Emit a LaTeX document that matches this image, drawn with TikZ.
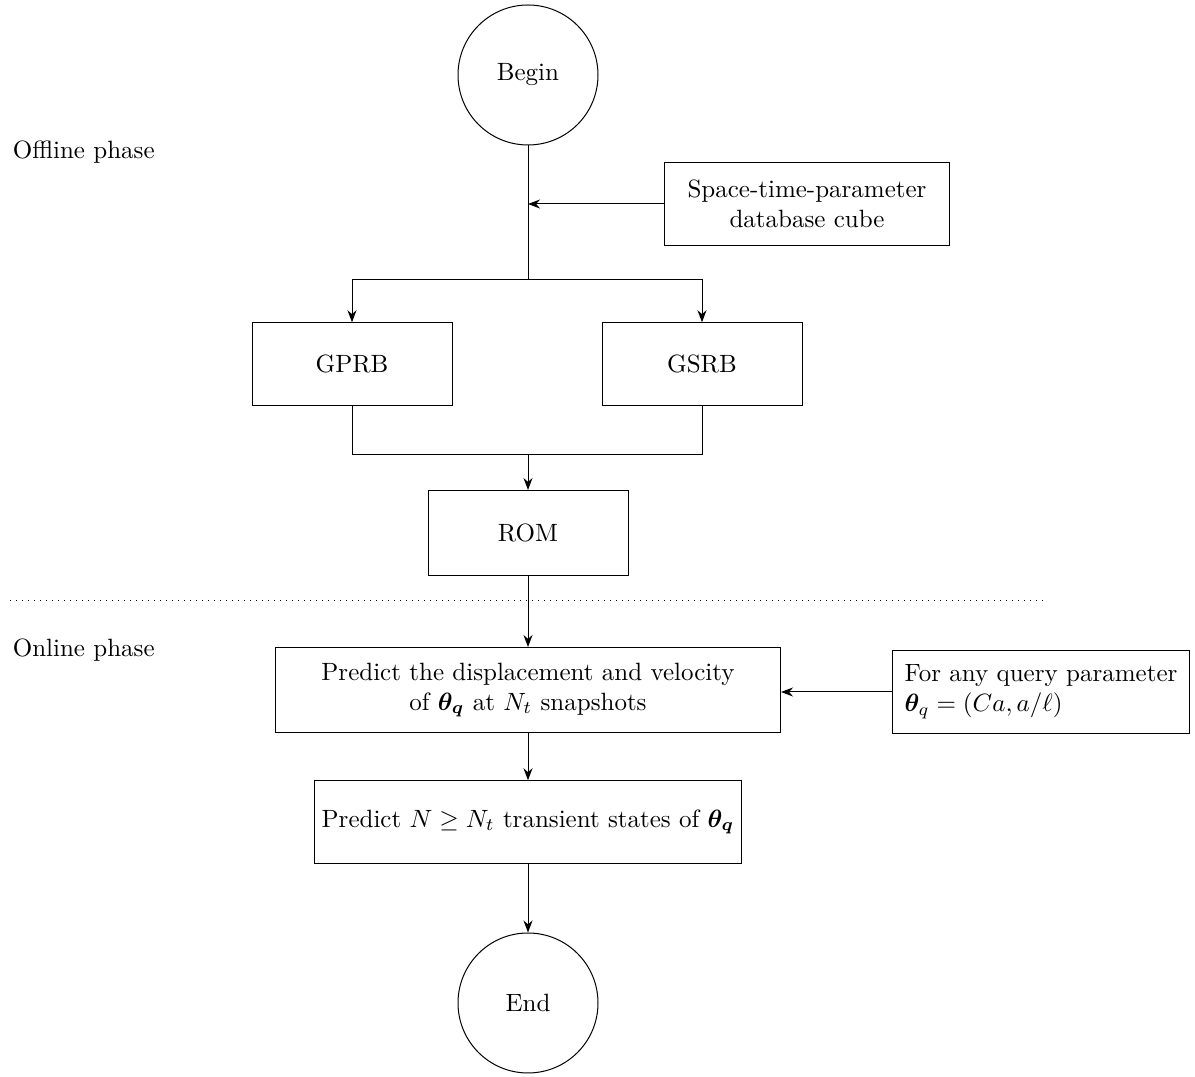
\documentclass[tikz,border=0pt]{standalone}
\usepackage{amsmath,amssymb,bm}
\usetikzlibrary{arrows.meta,positioning}

\begin{document}
\begin{tikzpicture}[
      x=0.4pt,y=-0.4pt,>={Stealth},
      block/.style={draw, rectangle, align=center, inner sep=2pt,
          minimum width=80pt, minimum height=33pt},
      term/.style={draw, circle, minimum size=56pt},
      phase/.style={anchor=west}
      ]
      \useasboundingbox (0,0) rectangle (1195,1077);

      % offline part
      \node[term]                  (begin)  at (528,75)   {Begin};
      \node[phase]                 (offl)   at (4,152)    {Offline phase};
      \node[block, minimum width=114pt] (cube) at (807,204)
            {Space-time-parameter\\ database cube};
      \coordinate (split) at (528,280);
      \node[block]                 (gprb)   at (352,364)  {GPRB};
      \node[block]                 (gsrb)   at (702,364)  {GSRB};
      \coordinate (merge) at (528,455);
      \node[block, minimum height=34pt] (rom) at (528,533) {ROM};

      % online part
      \node[phase]                 (onl)    at (4,650)    {Online phase};
      \node[block, minimum width=202pt, minimum height=34pt] (pred) at (528,690)
            {Predict the displacement and velocity\\ of $\boldsymbol{\theta_q}$ at $N_t$ snapshots};
      \node[block, align=left, inner sep=1pt, minimum width=119pt] (query) at (1041,692)
            {For any query parameter\\ $\boldsymbol{\theta}_q = (Ca, a/\ell)$};
      \node[block, minimum width=171pt] (states) at (528,822)
            {Predict $N \geq N_t$ transient states of $\boldsymbol{\theta_q}$};
      \node[term]                  (end)    at (528,1003) {End};

      \draw (begin) -- (split);
      \draw[->] (cube) -- (cube -| split);
      \draw[->] (split) -| (gprb);
      \draw[->] (split) -| (gsrb);
      \draw (gprb) |- (merge);
      \draw (gsrb) |- (merge);
      \draw[->] (merge) -- (rom);
      \draw[dotted] (10,601) -- (1043,601);
      \draw[->] (rom) -- (pred);
      \draw[->] (query) -- (query -| pred.east);
      \draw[->] (pred) -- (states);
      \draw[->] (states) -- (end);
    \end{tikzpicture}
\end{document}
